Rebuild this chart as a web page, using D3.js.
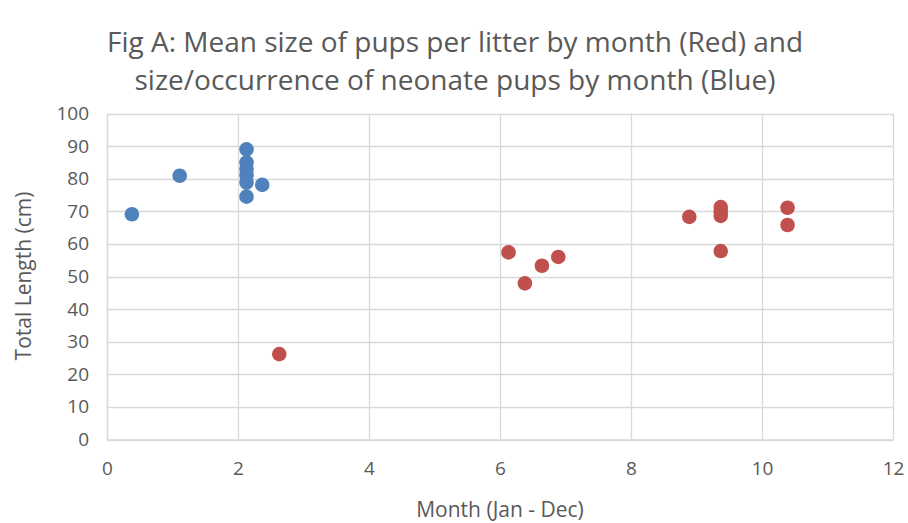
<!DOCTYPE html>
<html lang="en">
<head>
<meta charset="UTF-8">
<title>Fig A</title>
<style>
    body {
        margin: 0;
        padding: 0;
        background-color: #fff;
    }
    svg text {
        font-family: "Open Sans", "Noto Sans", sans-serif;
        fill: #595959;
    }
</style>
</head>
<body>
<svg id="chart" width="908" height="523"></svg>

<script src="https://d3js.org/d3.v7.min.js"></script>
<script>
    // neonate pups (blue)
    var blue_x = [0.38, 1.11, 2.13, 2.13, 2.13, 2.13, 2.13, 2.13, 2.37];
    var blue_y = [69.1, 80.9, 89.0, 85.0, 83.0, 81.0, 78.8, 74.5, 78.1];
    // mean size per litter (red)
    var red_x = [2.63, 6.13, 6.38, 6.64, 6.89, 8.89, 9.37, 9.37, 9.37, 9.37, 10.39, 10.39];
    var red_y = [26.2, 57.4, 47.9, 53.3, 56.0, 68.3, 71.3, 69.9, 68.6, 57.8, 71.1, 65.8];

    var x_ticks = [0, 2, 4, 6, 8, 10, 12];
    var y_ticks = [0, 10, 20, 30, 40, 50, 60, 70, 80, 90, 100];

    var svg = d3.select("#chart");

    // 比例尺
    var xScale = d3.scaleLinear().domain([0, 12]).range([107, 893]);
    var yScale = d3.scaleLinear().domain([0, 100]).range([439.5, 113.5]);

    // 网格线
    svg.append("g")
        .selectAll("line.h")
        .data(y_ticks)
        .join("line")
        .attr("x1", xScale(0))
        .attr("x2", xScale(12))
        .attr("y1", d => Math.round(yScale(d)) + 0.5)
        .attr("y2", d => Math.round(yScale(d)) + 0.5)
        .attr("stroke", "#d9d9d9")
        .attr("stroke-width", 1.3);

    svg.append("g")
        .selectAll("line.v")
        .data(x_ticks)
        .join("line")
        .attr("x1", d => Math.round(xScale(d)) + 0.5)
        .attr("x2", d => Math.round(xScale(d)) + 0.5)
        .attr("y1", yScale(0))
        .attr("y2", yScale(100))
        .attr("stroke", "#d9d9d9")
        .attr("stroke-width", 1.3);

    // 坐标轴
    var xAxis = d3.axisBottom(xScale).tickValues(x_ticks).tickSize(0).tickPadding(22);
    var yAxis = d3.axisLeft(yScale).tickValues(y_ticks).tickSize(0).tickPadding(18);

    var gx = svg.append("g")
        .attr("transform", "translate(0," + yScale(0) + ")")
        .call(xAxis);
    gx.select(".domain").attr("stroke", "#d9d9d9").attr("stroke-width", 1.3);
    gx.selectAll("text").style("font-size", "19px").attr("fill", "#595959");

    var gy = svg.append("g")
        .attr("transform", "translate(" + xScale(0) + ",0)")
        .call(yAxis);
    gy.select(".domain").attr("stroke", "#d9d9d9").attr("stroke-width", 1.3);
    gy.selectAll("text").style("font-size", "19px").attr("fill", "#595959");

    // 点
    svg.append("g")
        .selectAll("circle")
        .data(blue_x)
        .join("circle")
        .attr("cx", (d, i) => xScale(d))
        .attr("cy", (d, i) => yScale(blue_y[i]))
        .attr("r", 7.3)
        .attr("fill", "#4f81bd");

    svg.append("g")
        .selectAll("circle")
        .data(red_x)
        .join("circle")
        .attr("cx", (d, i) => xScale(d))
        .attr("cy", (d, i) => yScale(red_y[i]))
        .attr("r", 7.3)
        .attr("fill", "#c0504d");

    // 标题
    var title = svg.append("text")
        .attr("text-anchor", "middle")
        .style("font-size", "28px");
    title.append("tspan").attr("x", 455).attr("y", 52)
        .text("Fig A: Mean size of pups per litter by month (Red) and");
    title.append("tspan").attr("x", 455).attr("y", 90)
        .text("size/occurrence of neonate pups by month (Blue)");

    svg.append("text")
        .attr("x", 500)
        .attr("y", 517)
        .attr("text-anchor", "middle")
        .style("font-size", "21px")
        .text("Month (Jan - Dec)");

    svg.append("text")
        .attr("transform", "translate(31,276) rotate(-90)")
        .attr("text-anchor", "middle")
        .style("font-size", "21px")
        .text("Total Length (cm)");
</script>
</body>
</html>
